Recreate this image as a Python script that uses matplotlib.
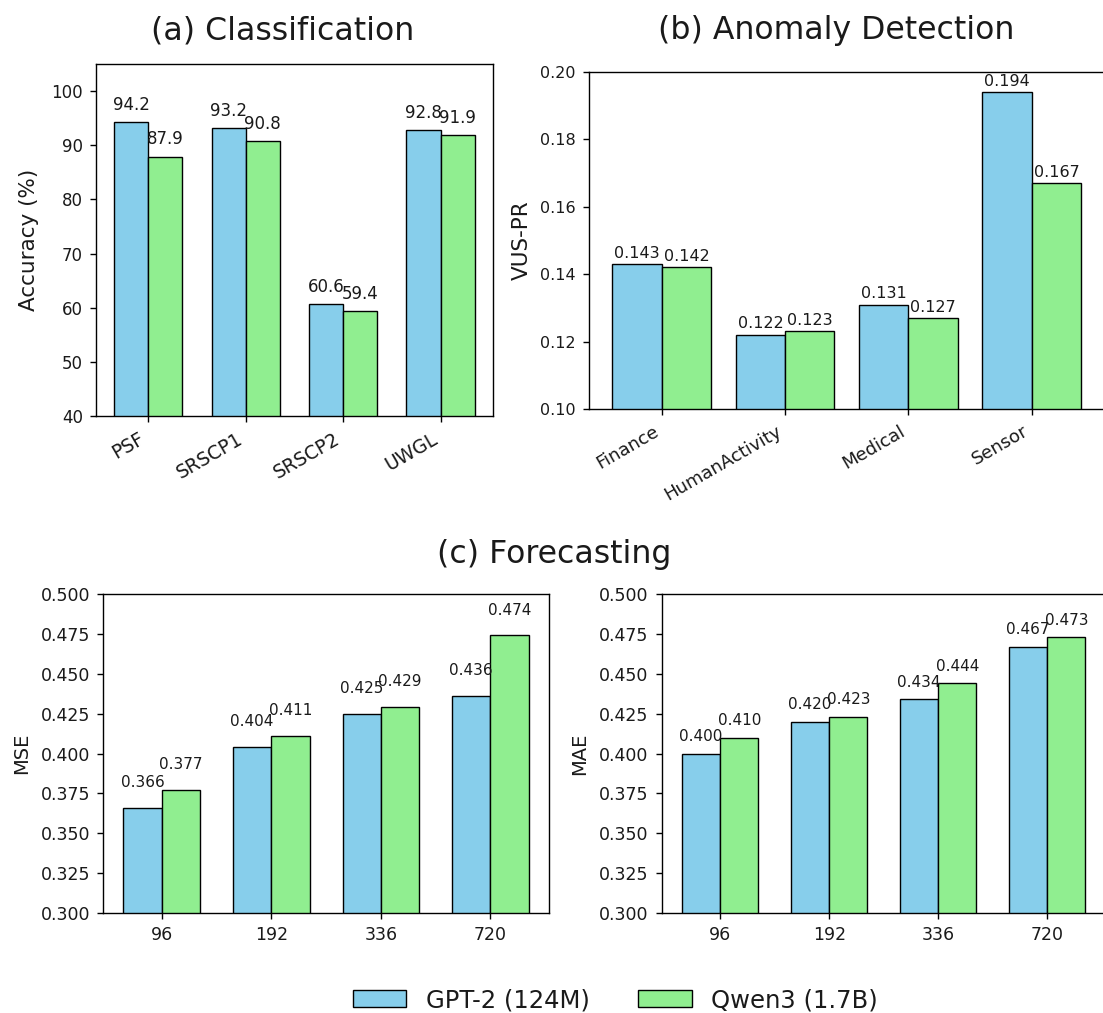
import numpy as np
import matplotlib
matplotlib.use("Agg")
import matplotlib.pyplot as plt

# Data
models = ["GPT-2 (124M)", "Qwen3 (1.7B)"]
colors = ["skyblue", "lightgreen"]

cls_names = ["PSF", "SRSCP1", "SRSCP2", "UWGL"]
cls_gpt2 = [94.2, 93.2, 60.6, 92.8]
cls_qwen = [87.9, 90.8, 59.4, 91.9]

ad_names = ["Finance", "HumanActivity", "Medical", "Sensor"]
ad_gpt2 = [0.143, 0.122, 0.131, 0.194]
ad_qwen = [0.142, 0.123, 0.127, 0.167]

horizons = ["96", "192", "336", "720"]
mse_gpt2 = [0.366, 0.404, 0.425, 0.436]
mse_qwen = [0.377, 0.411, 0.429, 0.474]
mae_gpt2 = [0.400, 0.420, 0.434, 0.467]
mae_qwen = [0.410, 0.423, 0.444, 0.473]

W, H = 1103, 1013
fig = plt.figure(figsize=(W / 100, H / 100), dpi=100)


def rect(left, top, right, bottom):
    return [left / W, 1 - bottom / H, (right - left) / W, (bottom - top) / H]


def panel(ax, names, a, b, width, fmt, dy, lab_fs, tick_fs):
    x = np.arange(len(names))
    bars = []
    for vals, off, c, m in [(a, -width / 2, colors[0], models[0]),
                            (b, width / 2, colors[1], models[1])]:
        br = ax.bar(x + off, vals, width, color=c, edgecolor="black",
                    linewidth=1.0, label=m)
        bars.append(br)
        for xi, v in zip(x + off, vals):
            ax.annotate(fmt.format(v), (xi, v), xytext=(0, dy),
                        textcoords="offset points", ha="center", va="bottom",
                        fontsize=lab_fs, color="#1a1a1a")
    ax.set_xticks(x)
    ax.tick_params(labelsize=tick_fs, length=4.5, width=1.0, pad=5,
                   labelcolor="#1a1a1a")
    for s in ax.spines.values():
        s.set_linewidth(1.0)
    return bars


# (a) Classification
ax1 = fig.add_axes(rect(96, 64, 492.7, 416))
handles = panel(ax1, cls_names, cls_gpt2, cls_qwen, 0.35, "{:.1f}", 6, 12, 12)
ax1.set_ylim(40, 105)
ax1.set_xticklabels(cls_names, rotation=30, ha="right", fontsize=13.5)
ax1.set_ylabel("Accuracy (%)", fontsize=15.5, labelpad=9, color="#1a1a1a")

# (b) Anomaly detection
ax2 = fig.add_axes(rect(589, 72, 1104.6, 409))
panel(ax2, ad_names, ad_gpt2, ad_qwen, 0.4, "{:.3f}", 2.5, 11.5, 11.5)
ax2.set_ylim(0.10, 0.20)
ax2.set_yticks([0.10, 0.12, 0.14, 0.16, 0.18, 0.20])
ax2.set_xticklabels(ad_names, rotation=30, ha="right", fontsize=13)
ax2.set_ylabel("VUS-PR", fontsize=15.5, labelpad=6, color="#1a1a1a")

# (c) Forecasting
ax3 = fig.add_axes(rect(103.2, 594, 549, 913))
panel(ax3, horizons, mse_gpt2, mse_qwen, 0.35, "{:.3f}", 12.8, 11, 12.5)
ax3.set_ylim(0.3, 0.5)
ax3.set_yticks(np.arange(0.300, 0.501, 0.025))
ax3.set_xticklabels(horizons)
ax3.set_ylabel("MSE", fontsize=14, labelpad=7, color="#1a1a1a")

ax4 = fig.add_axes(rect(661.9, 594, 1105.5, 913))
panel(ax4, horizons, mae_gpt2, mae_qwen, 0.35, "{:.3f}", 6.8, 11, 12.5)
ax4.set_ylim(0.3, 0.5)
ax4.set_yticks(np.arange(0.300, 0.501, 0.025))
ax4.set_xticklabels(horizons)
ax4.set_ylabel("MAE", fontsize=14, labelpad=7, color="#1a1a1a")

# Titles
fig.text(282.6 / W, 1 - 39 / H, "(a) Classification", fontsize=22.7,
         ha="center", va="baseline", color="#1a1a1a")
fig.text(836 / W, 1 - 39 / H, "(b) Anomaly Detection", fontsize=22.7,
         ha="center", va="baseline", color="#1a1a1a")
fig.text(554 / W, 1 - 563 / H, "(c) Forecasting", fontsize=22.7,
         ha="center", va="baseline", color="#1a1a1a")

leg = fig.legend(handles, models, loc="center",
                 bbox_to_anchor=(615.5 / W, 1 - 1000 / H),
                 ncol=2, frameon=False, fontsize=17.5, handlelength=2.2)
for t in leg.get_texts():
    t.set_color("#1a1a1a")

fig.savefig("out.png", dpi=100)
